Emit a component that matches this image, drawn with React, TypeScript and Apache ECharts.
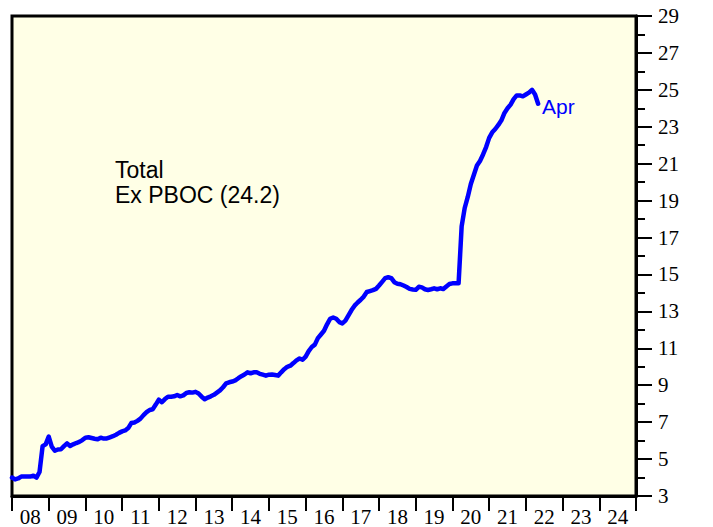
import React, { useEffect, useRef } from "react";
import * as echarts from "echarts";

// Year labels on the bottom axis
const yearLabels = ["08", "09", "10", "11", "12", "13", "14", "15", "16", "17", "18", "19", "20", "21", "22", "23", "24"];

// Month-end values from Dec 2007 to Apr 2022 (USD tn, total ex PBOC)
const startYear = 2007;
const startMonth = 12;
const values2008 = [4.0, 3.9, 3.95, 4.05, 4.05, 4.05, 4.05, 4.1, 4.0, 4.3, 5.7, 5.8, 6.22]; // Dec07..Dec08
const values2009 = [5.67, 5.45, 5.52, 5.53, 5.7, 5.85, 5.71, 5.8, 5.87, 5.93, 6.03, 6.16];
const values2010 = [6.18, 6.14, 6.1, 6.07, 6.16, 6.11, 6.12, 6.18, 6.24, 6.32, 6.42, 6.5];
const values2011 = [6.55, 6.68, 6.95, 6.98, 7.07, 7.19, 7.38, 7.54, 7.66, 7.7, 7.95, 8.22];
const values2012 = [8.08, 8.25, 8.38, 8.38, 8.4, 8.47, 8.4, 8.45, 8.58, 8.62, 8.6, 8.64];
const values2013 = [8.55, 8.38, 8.24, 8.33, 8.4, 8.48, 8.6, 8.72, 8.89, 9.1, 9.16, 9.2];
const values2014 = [9.26, 9.38, 9.49, 9.58, 9.7, 9.65, 9.7, 9.7, 9.62, 9.57, 9.52, 9.57];
const values2015 = [9.58, 9.55, 9.52, 9.7, 9.87, 10.0, 10.06, 10.2, 10.35, 10.45, 10.38, 10.55];
const values2016 = [10.85, 11.07, 11.2, 11.55, 11.75, 11.95, 12.3, 12.6, 12.67, 12.6, 12.42, 12.35];
const values2017 = [12.5, 12.78, 13.07, 13.31, 13.48, 13.63, 13.8, 14.05, 14.1, 14.15, 14.22, 14.4];
const values2018 = [14.6, 14.8, 14.85, 14.8, 14.58, 14.5, 14.47, 14.4, 14.32, 14.22, 14.19, 14.17];
const values2019 = [14.33, 14.3, 14.2, 14.16, 14.2, 14.25, 14.2, 14.25, 14.21, 14.35, 14.48, 14.52];
const values2020 = [14.52, 14.52, 17.6, 18.6, 19.2, 19.9, 20.4, 20.9, 21.15, 21.5, 21.9, 22.4];
const values2021 = [22.7, 22.88, 23.1, 23.35, 23.75, 24.0, 24.2, 24.5, 24.7, 24.7, 24.65, 24.75];
const values2022 = [24.85, 25.0, 24.75, 24.25]; // Jan..Apr

const allValues = [
  ...values2008, ...values2009, ...values2010, ...values2011, ...values2012,
  ...values2013, ...values2014, ...values2015, ...values2016, ...values2017,
  ...values2018, ...values2019, ...values2020, ...values2021, ...values2022,
];

const legendText = ["Total", "Ex PBOC (24.2)"];
const lastLabel = "Apr";

const serif = "'Liberation Serif', 'Times New Roman', Times, serif";
const sans = "'Liberation Sans', Arial, Helvetica, sans-serif";

export default function App() {
  const ref = useRef<HTMLDivElement>(null);
  useEffect(() => {
    if (!ref.current) return;
    const chart = echarts.init(ref.current, null, { renderer: "svg" });
    const seriesData = allValues.map((v, i) => {
      const monthsFromStart = startMonth + i; // month-end position
      return [startYear + monthsFromStart / 12, v];
    });
    chart.setOption({
      animation: false,
      backgroundColor: "#ffffff",
      grid: {
        left: 12,
        top: 16,
        right: 77,
        bottom: 30,
        show: true,
        backgroundColor: "#FFFFE6",
        borderColor: "#000000",
        borderWidth: 3,
      },
      xAxis: [
        {
          type: "category",
          data: yearLabels,
          position: "bottom",
          boundaryGap: true,
          axisLine: { show: true, lineStyle: { color: "#000", width: 3 } },
          axisTick: { show: true, interval: 0, length: 15, alignWithLabel: false, lineStyle: { color: "#000", width: 2 } },
          axisLabel: {
            interval: 0,
            margin: 10,
            color: "#000",
            fontFamily: serif,
            fontSize: 21,
          },
          splitLine: { show: false },
        },
        {
          type: "value",
          min: 2008,
          max: 2025,
          show: false,
          splitLine: { show: false },
        },
      ],
      yAxis: {
        type: "value",
        position: "right",
        min: 3,
        max: 29,
        interval: 2,
        axisLine: { show: true, lineStyle: { color: "#000", width: 3 } },
        axisTick: { show: true, length: 16, lineStyle: { color: "#000", width: 2 } },
        minorTick: { show: true, splitNumber: 2, length: 9, lineStyle: { color: "#000", width: 2 } },
        axisLabel: {
          margin: 22,
          color: "#000",
          fontFamily: serif,
          fontSize: 21,
        },
        splitLine: { show: false },
        minorSplitLine: { show: false },
      },
      series: [
        {
          type: "line",
          xAxisIndex: 1,
          data: seriesData,
          showSymbol: false,
          symbol: "none",
          lineStyle: { color: "#0000FF", width: 4.5, cap: "round", join: "round" },
          endLabel: {
            show: true,
            formatter: lastLabel,
            color: "#0000FF",
            fontFamily: sans,
            fontSize: 21,
            distance: 4,
            offset: [0, 3],
          },
        },
      ],
      graphic: [
        {
          type: "text",
          left: 115,
          top: 158,
          style: {
            text: legendText.join("\n"),
            fill: "#000",
            fontFamily: sans,
            fontSize: 23,
            lineHeight: 24.5,
          },
        },
      ],
    });
    return () => chart.dispose();
  }, []);
  return (
    <div
      ref={ref}
      style={{ position: "fixed", left: 0, top: 0, width: 713, height: 527 }}
    />
  );
}
